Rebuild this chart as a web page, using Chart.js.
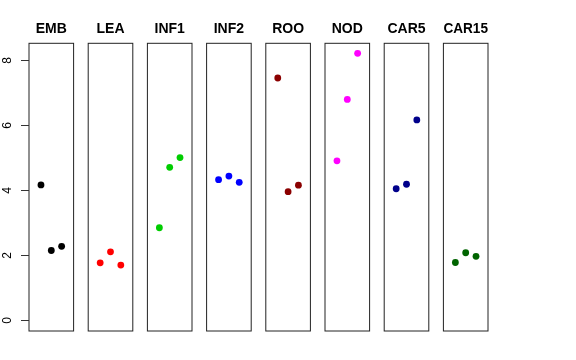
<!DOCTYPE html>
<html>
<head>
<meta charset="utf-8">
<script src="https://cdn.jsdelivr.net/npm/chart.js@4/dist/chart.umd.min.js"></script>
<style>
  body { margin: 0; background: #fff; }
  #wrap { position: relative; width: 576px; height: 360px; background: #fff; }
  #wrap canvas { position: absolute; left: 0; top: 0; }
</style>
</head>
<body>
<div id="wrap"></div>
<script>
// panels and values
const categories = ["EMB", "LEA", "INF1", "INF2", "ROO", "NOD", "CAR5", "CAR15"];
const colors = ["#000000", "#FF0000", "#00CD00", "#0000FF", "#8B0000", "#FF00FF", "#00008B", "#006400"];
const xPositions = [1, 2, 3];
const embValues = [4.17, 2.15, 2.28];
const leaValues = [1.77, 2.11, 1.70];
const inf1Values = [2.85, 4.71, 5.01];
const inf2Values = [4.33, 4.44, 4.25];
const rooValues = [7.46, 3.96, 4.16];
const nodValues = [4.91, 6.80, 8.22];
const car5Values = [4.05, 4.19, 6.17];
const car15Values = [1.78, 2.08, 1.97];
const yTicks = [0, 2, 4, 6, 8];

const allValues = [embValues, leaValues, inf1Values, inf2Values, rooValues, nodValues, car5Values, car15Values];

const W = 576, H = 360;
const firstLeft = 29, pitch = 59.2, panelW = 44.6;

const wrap = document.getElementById("wrap");

// frame round each panel
const boxPlugin = {
  id: "box",
  afterDatasetsDraw(chart) {
    const a = chart.chartArea;
    const c = chart.ctx;
    c.save();
    c.strokeStyle = "#222";
    c.lineWidth = 1;
    c.strokeRect(a.left, a.top, a.right - a.left, a.bottom - a.top);
    c.restore();
  }
};

// R-style left axis, only on the first panel
const yAxisPlugin = {
  id: "yaxis",
  afterDraw(chart) {
    const c = chart.ctx;
    const y = chart.scales.y;
    const left = chart.chartArea.left;
    c.save();
    c.strokeStyle = "#333";
    c.lineWidth = 1;
    c.fillStyle = "#000";
    c.font = "12px 'Liberation Sans', Arial, sans-serif";
    c.textAlign = "center";
    c.textBaseline = "middle";
    for (const t of yTicks) {
      const py = Math.round(y.getPixelForValue(t)) + 0.5;
      c.beginPath();
      c.moveTo(left - 8, py);
      c.lineTo(left, py);
      c.stroke();
      c.save();
      c.translate(8, py);
      c.rotate(-Math.PI / 2);
      c.fillText(String(t), 0, 0);
      c.restore();
    }
    c.restore();
  }
};

categories.forEach(function (name, i) {
  const cv = document.createElement("canvas");
  cv.width = W;
  cv.height = H;
  wrap.appendChild(cv);

  const left = firstLeft + pitch * i;
  const pts = xPositions.map(function (x, k) { return { x: x, y: allValues[i][k] }; });

  new Chart(cv, {
    type: "scatter",
    data: {
      datasets: [{
        data: pts,
        backgroundColor: colors[i],
        borderColor: colors[i],
        borderWidth: 0,
        pointRadius: 3.4,
        pointHoverRadius: 3.4,
        clip: false
      }]
    },
    options: {
      responsive: false,
      animation: false,
      devicePixelRatio: 1,
      layout: {
        padding: { top: 20.9, left: left, right: W - left - panelW, bottom: 29 }
      },
      scales: {
        x: { type: "linear", min: -0.16, max: 4.16, display: false },
        y: { type: "linear", min: -0.328, max: 8.528, display: false }
      },
      plugins: {
        legend: { display: false },
        tooltip: { enabled: false },
        title: {
          display: true,
          text: name,
          fullSize: false,
          color: "#000",
          font: { family: "'Liberation Sans', Arial, sans-serif", size: 14, weight: "bold" },
          padding: { top: 0, bottom: 5.6 }
        }
      }
    },
    plugins: i === 0 ? [boxPlugin, yAxisPlugin] : [boxPlugin]
  });
});
</script>
</body>
</html>
